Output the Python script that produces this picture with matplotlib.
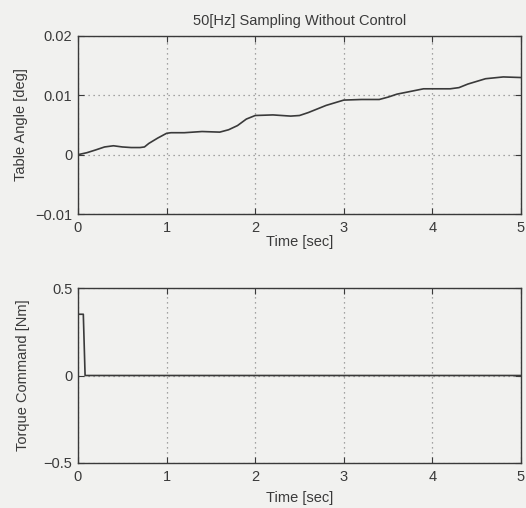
import numpy as np
import matplotlib.pyplot as plt

plt.rcParams['font.family'] = ['Liberation Sans', 'DejaVu Sans']

# table angle
t_angle = [0.0, 0.1, 0.2, 0.3, 0.4, 0.5, 0.6, 0.7, 0.75, 0.8, 0.9, 1.0, 1.05, 1.2, 1.4,
           1.6, 1.7, 1.8, 1.9, 2.0, 2.2, 2.4, 2.5, 2.6, 2.8, 3.0, 3.2, 3.4, 3.5, 3.6,
           3.8, 3.9, 4.0, 4.2, 4.3, 4.4, 4.6, 4.8, 5.0]
angle = [0.0, 0.00033, 0.0008, 0.0013, 0.0015, 0.0013, 0.0012, 0.0012, 0.0013, 0.0019,
         0.0028, 0.0036, 0.0037, 0.0037, 0.0039, 0.0038, 0.0042, 0.0049, 0.006, 0.0066,
         0.0067, 0.0065, 0.0066, 0.0071, 0.0083, 0.0092, 0.0093, 0.0093, 0.0097, 0.0102,
         0.0108, 0.0111, 0.0111, 0.0111, 0.0113, 0.0119, 0.0128, 0.0131, 0.0130]

# torque command
t_torque = [0.0, 0.06, 0.08, 5.0]
torque = [0.35, 0.35, 0.0, 0.0]

bg = '#f1f1ef'
ink = '#3a3a3a'
fs = 10.5

fig = plt.figure(figsize=(5.26, 5.08), dpi=100, facecolor=bg)
ax1 = fig.add_axes([78/526, 1 - 214/508, 443/526, 178/508], facecolor=bg)
ax2 = fig.add_axes([78/526, 1 - 463/508, 443/526, 175/508], facecolor=bg)

ax1.plot(t_angle, angle, color=ink, lw=1.2)
ax2.plot(t_torque, torque, color=ink, lw=1.2)

for ax in (ax1, ax2):
    ax.set_xlim(0, 5)
    ax.set_xticks([0, 1, 2, 3, 4, 5])
    ax.grid(True, linestyle=(0, (1, 3)), color='#8a8a8a', lw=0.9)
    ax.tick_params(direction='in', top=True, right=True, labelsize=fs, colors=ink,
                   length=4, pad=4)
    ax.tick_params(axis='x', pad=5)
    for s in ax.spines.values():
        s.set_color(ink)
        s.set_linewidth(1.0)

ax1.set_xlabel('Time [sec]', fontsize=fs, color=ink, labelpad=0)
ax2.set_xlabel('Time [sec]', fontsize=fs, color=ink, labelpad=5)

ax1.set_ylim(-0.01, 0.02)
ax1.set_yticks([-0.01, 0, 0.01, 0.02])
ax1.set_yticklabels(['\u22120.01', '0', '0.01', '0.02'])
ax1.set_ylabel('Table Angle [deg]', fontsize=fs, color=ink, labelpad=5)
ax1.set_title('50[Hz] Sampling Without Control', fontsize=fs, color=ink, pad=8)

ax2.set_ylim(-0.5, 0.5)
ax2.set_yticks([-0.5, 0, 0.5])
ax2.set_yticklabels(['\u22120.5', '0', '0.5'])
ax2.set_ylabel('Torque Command [Nm]', fontsize=fs, color=ink, labelpad=10)

fig.savefig('out.png', dpi=100, facecolor=bg)
